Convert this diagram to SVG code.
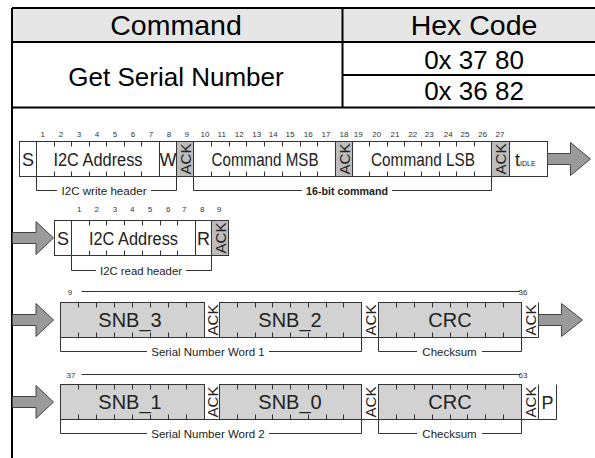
<svg xmlns="http://www.w3.org/2000/svg" width="595" height="458" viewBox="0 0 595 458">
<style>
text{font-family:"Liberation Sans",Arial,sans-serif;fill:#222}
.tt{font-size:26px;fill:#000;text-anchor:middle}
.th{font-size:28.5px;fill:#000;text-anchor:middle}
.tl{fill:none;stroke:#000;stroke-width:2}
.b{fill:#fff;stroke:#333;stroke-width:1}
.g{fill:#d2d2d2;stroke:#333;stroke-width:1}
.ga{fill:#bdbdbd;stroke:#333;stroke-width:1}
.k{stroke:#333;stroke-width:1;fill:none}
.br{fill:none;stroke:#333;stroke-width:1}
.ar{fill:#9a9a9a;stroke:#444;stroke-width:1;stroke-linejoin:miter}
.lb{font-size:18px;text-anchor:middle}
.sn{font-size:20px;text-anchor:middle}
.ak{font-size:15px;text-anchor:middle}
.n{font-size:8px;text-anchor:middle;fill:#333}
.bl{font-size:11.5px;text-anchor:middle}
</style>

<g id="table">
  <rect x="12" y="8" width="590" height="34" fill="#e6e6e6"/>
  <path class="tl" d="M12,8 H595 M12,8 V458 M12,42 H595 M342.5,8 V107.5 M342.5,75 H595 M12,107.5 H595"/>
  <text class="th" x="176" y="35">Command</text>
  <text class="th" x="474" y="35">Hex Code</text>
  <text class="tt" x="176" y="86">Get Serial Number</text>
  <text class="tt" x="474" y="69">0x 37 80</text>
  <text class="tt" x="474" y="100">0x 36 82</text>
</g>

<g id="write-header">
  <rect class="b" x="19.5" y="141.5" width="17" height="35"/>
  <rect class="b" x="36.5" y="141.5" width="123" height="35"/>
  <rect class="b" x="159.5" y="141.5" width="17" height="35"/>
  <rect class="ga" x="176.5" y="141.5" width="17" height="35"/>
  <path class="k" d="M54.5,141.5v5M71.5,141.5v5M89.5,141.5v5M106.5,141.5v5M124.5,141.5v5M141.5,141.5v5M54.5,176.5v-5M71.5,176.5v-5M89.5,176.5v-5M106.5,176.5v-5M124.5,176.5v-5M141.5,176.5v-5"/>
  <text class="lb" x="28" y="166">S</text>
  <text class="lb" x="98" y="166" textLength="89" lengthAdjust="spacingAndGlyphs">I2C Address</text>
  <text class="lb" x="168" y="166">W</text>
  <text class="ak" transform="translate(185,159) rotate(-90)" x="0" y="5.5" textLength="31" lengthAdjust="spacingAndGlyphs">ACK</text>
</g>

<g id="command-msb">
  <rect class="b" x="193.5" y="141.5" width="142" height="35"/>
  <rect class="ga" x="335.5" y="141.5" width="17" height="35"/>
  <path class="k" d="M211.5,141.5v5M229.5,141.5v5M246.5,141.5v5M264.5,141.5v5M282.5,141.5v5M300.5,141.5v5M317.5,141.5v5M211.5,176.5v-5M229.5,176.5v-5M246.5,176.5v-5M264.5,176.5v-5M282.5,176.5v-5M300.5,176.5v-5M317.5,176.5v-5"/>
  <text class="lb" x="265" y="166" textLength="107" lengthAdjust="spacingAndGlyphs">Command MSB</text>
  <text class="ak" transform="translate(344,159) rotate(-90)" x="0" y="5.5" textLength="31" lengthAdjust="spacingAndGlyphs">ACK</text>
</g>

<g id="command-lsb">
  <rect class="b" x="352.5" y="141.5" width="139" height="35"/>
  <rect class="ga" x="491.5" y="141.5" width="18" height="35"/>
  <path class="k" d="M369.5,141.5v5M387.5,141.5v5M404.5,141.5v5M421.5,141.5v5M439.5,141.5v5M456.5,141.5v5M474.5,141.5v5M369.5,176.5v-5M387.5,176.5v-5M404.5,176.5v-5M421.5,176.5v-5M439.5,176.5v-5M456.5,176.5v-5M474.5,176.5v-5"/>
  <text class="lb" x="423" y="166" textLength="104" lengthAdjust="spacingAndGlyphs">Command LSB</text>
  <text class="ak" transform="translate(500.5,159) rotate(-90)" x="0" y="5.5" textLength="31" lengthAdjust="spacingAndGlyphs">ACK</text>
</g>

<g id="t-idle">
  <rect class="b" x="509.5" y="141.5" width="38" height="35"/>
  <text x="515" y="166" font-size="18">t<tspan font-size="7">IDLE</tspan></text>
</g>

<g id="bits-row1">
  <text class="n" x="42.7" y="137">1</text><text class="n" x="61" y="137">2</text><text class="n" x="79" y="137">3</text><text class="n" x="97" y="137">4</text><text class="n" x="115" y="137">5</text><text class="n" x="133" y="137">6</text><text class="n" x="151" y="137">7</text><text class="n" x="169" y="137">8</text><text class="n" x="186.7" y="137">9</text>
  <text class="n" x="205" y="137">10</text><text class="n" x="221.7" y="137">11</text><text class="n" x="239.3" y="137">12</text><text class="n" x="256.7" y="137">13</text><text class="n" x="273.3" y="137">14</text><text class="n" x="290" y="137">15</text><text class="n" x="308.3" y="137">16</text><text class="n" x="326" y="137">17</text><text class="n" x="344" y="137">18</text>
  <text class="n" x="358.3" y="137">19</text><text class="n" x="376.7" y="137">20</text><text class="n" x="395" y="137">21</text><text class="n" x="412.7" y="137">22</text><text class="n" x="429.3" y="137">23</text><text class="n" x="448.3" y="137">24</text><text class="n" x="465" y="137">25</text><text class="n" x="482.7" y="137">26</text><text class="n" x="500" y="137">27</text>
</g>

<g id="read-header">
  <rect class="b" x="54.5" y="220.5" width="17" height="35"/>
  <rect class="b" x="71.5" y="220.5" width="124" height="35"/>
  <rect class="b" x="195.5" y="220.5" width="16" height="35"/>
  <rect class="ga" x="211.5" y="220.5" width="17" height="35"/>
  <path class="k" d="M89.5,220.5v5M106.5,220.5v5M124.5,220.5v5M142.5,220.5v5M160.5,220.5v5M177.5,220.5v5M89.5,255.5v-5M106.5,255.5v-5M124.5,255.5v-5M142.5,255.5v-5M160.5,255.5v-5M177.5,255.5v-5"/>
  <text class="lb" x="63" y="245">S</text>
  <text class="lb" x="133.5" y="245" textLength="89" lengthAdjust="spacingAndGlyphs">I2C Address</text>
  <text class="lb" x="203.5" y="245">R</text>
  <text class="ak" transform="translate(220,238) rotate(-90)" x="0" y="5.5" textLength="31" lengthAdjust="spacingAndGlyphs">ACK</text>
  <text class="n" x="79.3" y="212">1</text><text class="n" x="96.7" y="212">2</text><text class="n" x="115" y="212">3</text><text class="n" x="132.3" y="212">4</text><text class="n" x="150" y="212">5</text><text class="n" x="168.3" y="212">6</text><text class="n" x="184.3" y="212">7</text><text class="n" x="202.3" y="212">8</text><text class="n" x="219" y="212">9</text>
</g>

<g id="word1">
  <rect class="g" x="60.5" y="302.5" width="144" height="35"/>
  <rect class="g" x="219.5" y="302.5" width="142" height="35"/>
  <path class="k" d="M204.5,337.5H219.5"/>
  <path class="k" d="M78.5,302.5v5M96.5,302.5v5M114.5,302.5v5M132.5,302.5v5M150.5,302.5v5M168.5,302.5v5M186.5,302.5v5M78.5,337.5v-5M96.5,337.5v-5M114.5,337.5v-5M132.5,337.5v-5M150.5,337.5v-5M168.5,337.5v-5M186.5,337.5v-5"/>
  <path class="k" d="M237.5,302.5v5M255.5,302.5v5M272.5,302.5v5M290.5,302.5v5M308.5,302.5v5M326.5,302.5v5M343.5,302.5v5M237.5,337.5v-5M255.5,337.5v-5M272.5,337.5v-5M290.5,337.5v-5M308.5,337.5v-5M326.5,337.5v-5M343.5,337.5v-5"/>
  <text class="sn" x="130" y="327">SNB_3</text>
  <text class="ak" transform="translate(212,320) rotate(-90)" x="0" y="5.5" textLength="31" lengthAdjust="spacingAndGlyphs">ACK</text>
  <text class="sn" x="290" y="327">SNB_2</text>
</g>

<g id="checksum1">
  <path class="k" d="M361.5,337.5H378.5"/>
  <text class="ak" transform="translate(370,320) rotate(-90)" x="0" y="5.5" textLength="31" lengthAdjust="spacingAndGlyphs">ACK</text>
  <rect class="g" x="378.5" y="302.5" width="143" height="35"/>
  <path class="k" d="M396.5,302.5v5M414.5,302.5v5M432.5,302.5v5M450.5,302.5v5M467.5,302.5v5M485.5,302.5v5M503.5,302.5v5M396.5,337.5v-5M414.5,337.5v-5M432.5,337.5v-5M450.5,337.5v-5M467.5,337.5v-5M485.5,337.5v-5M503.5,337.5v-5"/>
  <text class="sn" x="450" y="327">CRC</text>
  <path class="k" d="M521.5,337.5H538.5V302.5"/>
  <text class="ak" transform="translate(530,320) rotate(-90)" x="0" y="5.5" textLength="31" lengthAdjust="spacingAndGlyphs">ACK</text>
</g>

<g id="word2">
  <rect class="g" x="60.5" y="384.5" width="144" height="35"/>
  <rect class="g" x="219.5" y="384.5" width="142" height="35"/>
  <path class="k" d="M204.5,419.5H219.5"/>
  <path class="k" d="M78.5,384.5v5M96.5,384.5v5M114.5,384.5v5M132.5,384.5v5M150.5,384.5v5M168.5,384.5v5M186.5,384.5v5M78.5,419.5v-5M96.5,419.5v-5M114.5,419.5v-5M132.5,419.5v-5M150.5,419.5v-5M168.5,419.5v-5M186.5,419.5v-5"/>
  <path class="k" d="M237.5,384.5v5M255.5,384.5v5M272.5,384.5v5M290.5,384.5v5M308.5,384.5v5M326.5,384.5v5M343.5,384.5v5M237.5,419.5v-5M255.5,419.5v-5M272.5,419.5v-5M290.5,419.5v-5M308.5,419.5v-5M326.5,419.5v-5M343.5,419.5v-5"/>
  <text class="sn" x="130" y="409">SNB_1</text>
  <text class="ak" transform="translate(212,402) rotate(-90)" x="0" y="5.5" textLength="31" lengthAdjust="spacingAndGlyphs">ACK</text>
  <text class="sn" x="290" y="409">SNB_0</text>
</g>

<g id="checksum2">
  <path class="k" d="M361.5,419.5H378.5"/>
  <text class="ak" transform="translate(370,402) rotate(-90)" x="0" y="5.5" textLength="31" lengthAdjust="spacingAndGlyphs">ACK</text>
  <rect class="g" x="378.5" y="384.5" width="143" height="35"/>
  <path class="k" d="M396.5,384.5v5M414.5,384.5v5M432.5,384.5v5M450.5,384.5v5M467.5,384.5v5M485.5,384.5v5M503.5,384.5v5M396.5,419.5v-5M414.5,419.5v-5M432.5,419.5v-5M450.5,419.5v-5M467.5,419.5v-5M485.5,419.5v-5M503.5,419.5v-5"/>
  <text class="sn" x="450" y="409">CRC</text>
  <path class="k" d="M521.5,419.5H538.5V384.5"/>
  <text class="ak" transform="translate(530,402) rotate(-90)" x="0" y="5.5" textLength="31" lengthAdjust="spacingAndGlyphs">ACK</text>
</g>

<g id="stop">
  <path class="k" d="M538.5,419.5H556.5V384.5"/>
  <text class="lb" x="547.5" y="408.5">P</text>
</g>

<g id="connectors">
  <path class="ar" d="M547.5,153.5H570.5V142.5L590.5,159L570.5,175.5V164.5H547.5Z"/>
  <path class="ar" d="M12.5,232.5H36V221.5L53.5,238L36,254.5V243.5H12.5Z"/>
  <path class="ar" d="M12.5,314.5H36V303.5L53.5,320L36,336.5V325.5H12.5Z"/>
  <path class="ar" d="M538.5,314.5H561.5V303.5L582.5,320L561.5,336.5V325.5H538.5Z"/>
  <path class="ar" d="M12.5,396.5H36V385.5L53.5,402L36,418.5V407.5H12.5Z"/>

  <path class="br" d="M36.5,176.5V190.5H57M151,190.5H176.5V176.5"/>
  <text class="bl" x="104" y="194.5" textLength="85" lengthAdjust="spacingAndGlyphs">I2C write header</text>
  <path class="br" d="M193.5,176.5V190.5H302M392,190.5H491.5V176.5"/>
  <text class="bl" x="347" y="194.5" font-weight="bold" textLength="82" lengthAdjust="spacingAndGlyphs">16-bit command</text>

  <path class="br" d="M71.5,255.5V270.5H96M186,270.5H211.5V255.5"/>
  <text class="bl" x="141" y="274.5" textLength="82" lengthAdjust="spacingAndGlyphs">I2C read header</text>

  <path class="br" d="M81.5,291.5H520"/>
  <text class="n" x="70" y="294.5">9</text>
  <text class="n" x="523" y="294.5" text-anchor="start">36</text>
  <path class="br" d="M60.5,337.5V351.5H147M269,351.5H361.5V337.5"/>
  <text class="bl" x="208" y="355.5" font-size="11">Serial Number Word 1</text>
  <path class="br" d="M378.5,337.5V351.5H417M482,351.5H521.5V337.5"/>
  <text class="bl" x="449.5" y="355.5" font-size="11">Checksum</text>

  <path class="br" d="M81.5,374.5H520"/>
  <text class="n" x="71" y="377.5">37</text>
  <text class="n" x="523" y="377.5" text-anchor="start">63</text>
  <path class="br" d="M60.5,419.5V433.5H147M269,433.5H361.5V419.5"/>
  <text class="bl" x="208" y="437.5" font-size="11">Serial Number Word 2</text>
  <path class="br" d="M378.5,419.5V433.5H417M482,433.5H521.5V419.5"/>
  <text class="bl" x="449.5" y="437.5" font-size="11">Checksum</text>
</g>
</svg>
